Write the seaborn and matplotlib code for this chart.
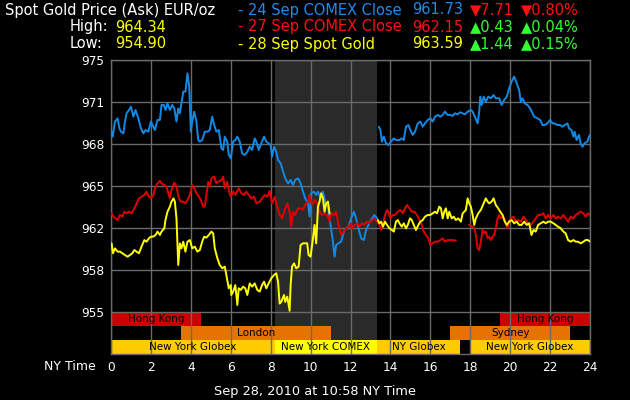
import matplotlib
matplotlib.use("Agg")
import matplotlib.pyplot as plt
import pandas as pd
import seaborn as sns

# Series readings: (hour of NY day, price EUR/oz)
blue_seg1 = [
    (0.03, 969.31), (0.08, 968.92), (0.20, 970.11), (0.33, 970.37), (0.42, 969.58), (0.50, 969.31),
    (0.62, 969.18), (0.70, 970.11), (0.78, 970.77), (0.90, 971.03), (1.00, 971.30), (1.12, 970.50),
    (1.23, 971.03), (1.37, 970.37), (1.50, 969.58), (1.62, 969.18), (1.73, 969.44), (1.87, 969.31),
    (2.00, 970.11), (2.12, 969.71), (2.20, 969.44), (2.33, 970.24), (2.45, 970.24), (2.53, 971.43),
    (2.65, 971.43), (2.73, 971.03), (2.83, 971.56), (2.95, 971.03), (3.07, 971.43), (3.17, 971.16),
    (3.28, 970.11), (3.37, 971.16), (3.45, 970.77), (3.53, 971.56), (3.62, 972.49), (3.73, 972.49),
    (3.83, 973.94), (3.92, 972.88), (4.00, 969.31), (4.07, 970.11), (4.17, 970.90), (4.28, 970.11),
    (4.37, 968.65), (4.45, 968.52), (4.57, 968.65), (4.70, 969.31), (4.83, 969.31), (4.95, 969.44),
    (5.07, 970.50), (5.17, 969.84), (5.28, 969.31), (5.40, 969.44), (5.53, 967.99), (5.62, 967.86),
    (5.70, 968.92), (5.82, 968.52), (5.90, 967.46), (6.00, 967.20), (6.12, 968.52), (6.23, 968.65),
    (6.33, 968.92), (6.45, 968.52), (6.57, 967.59), (6.70, 967.46), (6.83, 967.72), (6.95, 968.12),
    (7.07, 967.86), (7.20, 968.78), (7.28, 968.52), (7.40, 967.86), (7.53, 968.39), (7.67, 968.92),
    (7.78, 968.52), (7.90, 968.39), (8.00, 968.25), (8.07, 967.33), (8.17, 968.12), (8.28, 967.72),
    (8.37, 967.06), (8.50, 966.80), (8.62, 966.14), (8.73, 965.61), (8.87, 965.21), (9.00, 965.48),
    (9.12, 965.08), (9.23, 965.48), (9.37, 965.61), (9.50, 965.21), (9.62, 964.55), (9.73, 964.02),
    (9.87, 963.62), (9.95, 962.57), (10.03, 964.42), (10.17, 964.55), (10.28, 964.29), (10.37, 964.55),
    (10.50, 964.02), (10.62, 964.55), (10.73, 963.76), (10.87, 963.36), (11.00, 961.91), (11.12, 960.58),
    (11.20, 959.39), (11.28, 960.32), (11.40, 960.45), (11.53, 960.58), (11.67, 961.38), (11.78, 961.64),
    (11.90, 961.77), (12.03, 962.43), (12.17, 962.96), (12.28, 962.43), (12.40, 961.64), (12.53, 960.85),
    (12.67, 960.71), (12.78, 961.51), (12.90, 961.91), (13.03, 962.30), (13.20, 962.70), (13.33, 962.43),
]
blue_seg2 = [
    (13.42, 969.71), (13.50, 969.44), (13.57, 968.52), (13.67, 968.92), (13.78, 968.39), (13.90, 968.25),
    (14.03, 968.52), (14.17, 968.78), (14.28, 968.65), (14.45, 968.65), (14.57, 968.78), (14.67, 968.65),
    (14.78, 969.71), (14.90, 969.84), (15.00, 969.44), (15.12, 969.05), (15.23, 969.31), (15.37, 969.97),
    (15.50, 970.11), (15.62, 969.71), (15.73, 969.97), (15.87, 970.24), (16.00, 970.37), (16.12, 970.11),
    (16.23, 970.50), (16.37, 970.64), (16.50, 970.50), (16.62, 970.64), (16.73, 970.90), (16.87, 970.64),
    (17.00, 970.64), (17.12, 970.56), (17.23, 970.77), (17.37, 970.69), (17.50, 970.85), (17.62, 970.77),
    (17.73, 970.69), (17.87, 970.90), (18.03, 971.03), (18.12, 970.90), (18.23, 970.50), (18.37, 969.97),
    (18.45, 970.90), (18.50, 972.09), (18.57, 971.43), (18.67, 972.09), (18.78, 971.69), (18.90, 972.09),
    (19.03, 971.96), (19.17, 972.22), (19.28, 971.96), (19.45, 971.96), (19.57, 971.43), (19.70, 971.83),
    (19.83, 972.09), (19.95, 972.75), (20.07, 973.28), (20.20, 973.68), (20.33, 973.15), (20.45, 972.62),
    (20.53, 971.69), (20.62, 971.96), (20.73, 971.56), (20.87, 971.43), (21.00, 971.16), (21.12, 970.77),
    (21.20, 970.50), (21.37, 970.37), (21.50, 970.24), (21.62, 969.84), (21.73, 969.84), (21.87, 969.97),
    (22.00, 970.24), (22.12, 969.97), (22.23, 969.97), (22.37, 969.84), (22.50, 969.84), (22.62, 969.71),
    (22.73, 969.84), (22.87, 969.97), (22.95, 969.58), (23.07, 969.44), (23.17, 968.92), (23.23, 969.31),
    (23.33, 968.65), (23.45, 969.05), (23.53, 968.39), (23.62, 968.12), (23.73, 968.39), (23.87, 968.52),
    (23.95, 968.92), (24.00, 969.05),
]
red_seg1 = [
    (0.03, 962.83), (0.12, 962.57), (0.23, 962.43), (0.33, 962.30), (0.45, 962.70), (0.57, 962.57),
    (0.67, 962.96), (0.78, 962.83), (0.90, 962.96), (1.03, 962.83), (1.17, 963.23), (1.28, 963.62),
    (1.40, 964.02), (1.53, 964.15), (1.67, 964.29), (1.78, 964.55), (1.90, 964.15), (2.00, 964.02),
    (2.12, 964.29), (2.23, 964.95), (2.33, 965.21), (2.45, 965.40), (2.53, 965.21), (2.67, 965.08),
    (2.78, 964.95), (2.87, 964.42), (2.95, 964.02), (3.03, 964.68), (3.17, 965.26), (3.28, 964.95),
    (3.40, 964.02), (3.50, 963.76), (3.62, 963.76), (3.73, 963.62), (3.83, 963.89), (3.95, 964.29),
    (4.07, 965.08), (4.17, 964.82), (4.28, 964.42), (4.40, 964.15), (4.50, 963.89), (4.62, 963.36),
    (4.70, 963.36), (4.78, 964.29), (4.87, 965.34), (4.95, 964.95), (5.03, 965.61), (5.17, 965.74),
    (5.28, 965.21), (5.37, 965.34), (5.53, 965.48), (5.62, 965.74), (5.70, 964.82), (5.82, 965.34),
    (5.90, 964.68), (6.00, 964.15), (6.12, 964.55), (6.23, 964.29), (6.40, 964.82), (6.53, 964.42),
    (6.67, 964.29), (6.78, 964.55), (6.90, 964.29), (7.03, 964.02), (7.17, 964.15), (7.28, 963.62),
    (7.45, 963.76), (7.57, 964.02), (7.70, 964.29), (7.83, 964.15), (7.95, 964.60), (8.07, 963.62),
    (8.20, 964.15), (8.33, 963.36), (8.45, 962.70), (8.57, 962.43), (8.70, 963.10), (8.83, 963.62),
    (8.95, 962.96), (9.03, 961.77), (9.12, 962.96), (9.23, 962.70), (9.37, 963.23), (9.50, 963.23),
    (9.62, 963.10), (9.73, 963.49), (9.87, 963.76), (9.95, 964.29), (10.07, 963.49), (10.20, 963.89),
    (10.33, 963.62), (10.45, 962.96), (10.57, 962.70), (10.70, 962.83), (10.83, 962.70), (10.95, 962.17),
    (11.03, 962.83), (11.17, 962.70), (11.28, 962.96), (11.40, 961.91), (11.53, 961.11), (11.67, 961.38),
    (11.78, 961.64), (11.90, 961.77), (12.03, 962.04), (12.07, 961.64), (12.20, 961.91), (12.33, 962.04),
    (12.45, 961.77), (12.57, 962.04), (12.70, 961.91), (12.83, 962.17), (12.95, 962.04), (13.07, 962.30),
    (13.20, 962.43), (13.33, 962.17), (13.45, 961.91), (13.53, 961.51), (13.62, 961.91), (13.73, 962.70),
    (13.83, 963.10), (13.90, 962.96), (14.00, 962.43), (14.12, 962.70), (14.23, 962.70), (14.37, 962.96),
    (14.50, 963.10), (14.62, 962.83), (14.73, 963.23), (14.83, 963.49), (14.95, 963.23), (15.07, 962.96),
    (15.20, 962.96), (15.33, 962.70), (15.45, 962.30), (15.57, 961.91), (15.67, 961.38), (15.78, 961.11),
    (15.90, 960.85), (16.00, 960.32), (16.12, 960.45), (16.23, 960.58), (16.37, 960.58), (16.50, 960.71),
    (16.62, 960.85), (16.73, 960.58), (16.87, 960.71), (17.00, 960.71), (17.12, 960.71), (17.28, 960.66),
]
red_seg2 = [
    (17.95, 961.91), (18.12, 961.77), (18.20, 961.64), (18.28, 961.11), (18.37, 960.05), (18.45, 959.92),
    (18.53, 960.58), (18.62, 961.51), (18.70, 961.24), (18.78, 961.38), (18.87, 960.85), (18.95, 960.98),
    (19.03, 960.71), (19.12, 960.98), (19.20, 961.11), (19.28, 961.64), (19.37, 962.43), (19.45, 962.70),
    (19.53, 962.43), (19.62, 962.57), (19.70, 962.43), (19.78, 962.04), (19.87, 961.64), (19.95, 962.17),
    (20.03, 962.43), (20.17, 962.57), (20.28, 962.17), (20.40, 962.30), (20.53, 962.17), (20.67, 962.57),
    (20.78, 962.30), (20.90, 962.04), (21.03, 961.91), (21.17, 962.17), (21.28, 962.43), (21.40, 962.70),
    (21.53, 962.70), (21.67, 962.83), (21.78, 962.43), (21.90, 962.70), (22.03, 962.43), (22.17, 962.70),
    (22.28, 962.43), (22.40, 962.57), (22.53, 962.43), (22.67, 962.70), (22.78, 962.43), (22.90, 962.17),
    (23.03, 962.57), (23.17, 962.43), (23.28, 962.70), (23.40, 962.83), (23.53, 962.96), (23.67, 962.83),
    (23.78, 962.57), (23.90, 962.83), (24.00, 962.70),
]
yellow_seg1 = [
    (0.03, 960.45), (0.10, 959.66), (0.20, 960.05), (0.33, 959.79), (0.45, 959.79), (0.57, 959.66),
    (0.70, 959.52), (0.83, 959.39), (0.95, 959.52), (1.07, 959.66), (1.17, 959.92), (1.28, 959.79),
    (1.40, 959.66), (1.53, 960.19), (1.67, 960.71), (1.78, 960.58), (1.90, 960.85), (2.00, 960.98),
    (2.12, 960.98), (2.23, 961.11), (2.33, 961.38), (2.45, 961.11), (2.53, 961.38), (2.67, 961.64),
    (2.73, 962.30), (2.83, 962.96), (2.95, 963.36), (3.03, 963.76), (3.13, 964.02), (3.20, 963.76),
    (3.28, 962.43), (3.37, 958.73), (3.45, 960.45), (3.53, 960.05), (3.62, 960.58), (3.73, 959.79),
    (3.83, 960.58), (3.95, 960.71), (4.07, 960.05), (4.20, 960.19), (4.33, 959.79), (4.45, 959.92),
    (4.57, 960.58), (4.67, 960.98), (4.78, 960.90), (4.90, 961.11), (5.03, 961.38), (5.12, 961.24),
    (5.20, 960.05), (5.33, 959.26), (5.45, 958.73), (5.57, 958.47), (5.70, 958.60), (5.78, 957.94),
    (5.90, 956.88), (6.00, 957.14), (6.03, 956.35), (6.12, 956.62), (6.23, 957.14), (6.33, 955.56),
    (6.40, 956.88), (6.50, 956.75), (6.62, 957.01), (6.73, 956.88), (6.83, 956.35), (6.95, 957.27),
    (7.07, 957.01), (7.20, 957.27), (7.33, 956.75), (7.45, 956.62), (7.57, 957.14), (7.67, 957.41),
    (7.78, 956.88), (7.90, 957.27), (8.03, 957.67), (8.17, 957.94), (8.28, 958.07), (8.37, 957.41),
    (8.45, 955.67), (8.53, 955.80), (8.67, 956.35), (8.73, 955.80), (8.83, 956.22), (8.95, 955.10),
    (9.00, 957.14), (9.07, 958.60), (9.17, 958.86), (9.28, 958.47), (9.40, 958.60), (9.50, 960.32),
    (9.62, 960.45), (9.73, 960.45), (9.83, 960.45), (9.90, 959.52), (10.00, 959.39), (10.12, 960.85),
    (10.20, 961.91), (10.28, 960.45), (10.37, 963.36), (10.45, 963.76), (10.53, 964.42), (10.62, 964.02),
    (10.70, 962.96), (10.78, 963.62), (10.87, 963.76), (10.95, 962.83),
]
yellow_seg2 = [
    (13.37, 962.30), (13.45, 962.04), (13.53, 962.17), (13.63, 961.77), (13.73, 962.17), (13.83, 961.91),
    (13.95, 961.64), (14.07, 961.51), (14.17, 961.38), (14.28, 962.17), (14.37, 962.30), (14.45, 962.04),
    (14.57, 961.77), (14.67, 962.04), (14.78, 961.64), (14.87, 961.91), (14.98, 962.43), (15.07, 962.30),
    (15.17, 961.91), (15.28, 961.51), (15.40, 961.91), (15.50, 962.17), (15.62, 962.30), (15.73, 962.57),
    (15.87, 962.70), (16.00, 962.70), (16.12, 962.83), (16.23, 962.96), (16.33, 962.83), (16.45, 963.36),
    (16.53, 963.23), (16.62, 962.43), (16.70, 962.96), (16.78, 963.23), (16.87, 962.43), (16.95, 962.96),
    (17.07, 962.43), (17.17, 962.57), (17.28, 962.30), (17.40, 962.43), (17.53, 962.17), (17.62, 962.83),
    (17.70, 962.96), (17.78, 963.10), (17.87, 964.02), (17.95, 963.62), (18.03, 963.36), (18.12, 962.70),
    (18.20, 961.91), (18.28, 962.43), (18.40, 962.83), (18.53, 963.10), (18.67, 963.62), (18.78, 964.02),
    (18.87, 963.76), (18.95, 963.62), (19.07, 963.76), (19.17, 964.02), (19.28, 963.49), (19.40, 963.23),
    (19.50, 962.96), (19.62, 962.70), (19.73, 962.17), (19.83, 961.91), (19.95, 962.17), (20.07, 962.30),
    (20.20, 962.04), (20.33, 962.17), (20.45, 961.91), (20.57, 961.91), (20.70, 962.17), (20.83, 961.91),
    (20.95, 962.04), (21.07, 961.11), (21.17, 961.51), (21.28, 961.38), (21.40, 961.91), (21.53, 962.04),
    (21.67, 962.17), (21.78, 962.04), (21.90, 962.17), (22.03, 962.17), (22.17, 962.04), (22.28, 961.91),
    (22.40, 961.77), (22.53, 961.64), (22.67, 961.38), (22.78, 961.24), (22.90, 960.71), (23.03, 960.58),
    (23.17, 960.71), (23.28, 960.58), (23.40, 960.58), (23.53, 960.45), (23.67, 960.58), (23.78, 960.71),
    (23.90, 960.71), (24.00, 960.58),
]

# Trading sessions: (row, start hour, end hour, label, colour key)
sessions = [
    (0, 0.0, 4.5, "Hong Kong", "hk"),
    (0, 19.5, 24.0, "Hong Kong", "hk"),
    (1, 3.5, 11.0, "London", "ldn"),
    (1, 17.0, 23.0, "Sydney", "ldn"),
    (2, 0.0, 8.2, "New York Globex", "glx"),
    (2, 8.2, 13.33, "New York COMEX", "cmx"),
    (2, 13.33, 17.5, "NY Globex", "glx"),
    (2, 18.0, 24.0, "New York Globex", "glx"),
]
comex_window = (8.2, 13.33)

y_ticks = [955, 958.333, 961.667, 965, 968.333, 971.667, 975]
y_tick_labels = ["955", "958", "962", "965", "968", "971", "975"]
x_ticks = list(range(0, 25, 2))

header_rows = [
    ("- 24 Sep COMEX Close", "961.73", "\u25bc7.71", "\u25bc0.80%", "blue", "down"),
    ("- 27 Sep COMEX Close", "962.15", "\u25b20.43", "\u25b20.04%", "red", "up"),
    ("- 28 Sep Spot Gold", "963.59", "\u25b21.44", "\u25b20.15%", "yellow", "up"),
]

colors = {"blue": "#108ae6", "red": "#e00000", "yellow": "#ffff00"}
bar_colors = {"hk": "#cc0000", "ldn": "#e67300", "glx": "#ffcc00", "cmx": "#ffff00"}
text_colors = {"blue": "#1a8cf0", "red": "#ff1010", "yellow": "#ffff00", "up": "#33ff33", "down": "#ff1010"}

frames = []
for name, segs in [("blue", [blue_seg1, blue_seg2]), ("red", [red_seg1, red_seg2]),
                   ("yellow", [yellow_seg1, yellow_seg2])]:
    for i, seg in enumerate(segs):
        d = pd.DataFrame(seg, columns=["hour", "price"])
        d["series"] = name
        d["seg"] = i
        frames.append(d)
df = pd.concat(frames, ignore_index=True)

sns.set_style("dark")
plt.rcParams["font.family"] = ["DejaVu Sans"]

fig = plt.figure(figsize=(6.3, 4.0), dpi=100, facecolor="black")
ax = fig.add_axes([111 / 630, 1 - 354 / 400, 479 / 630, 294 / 400])
ax.set_facecolor("black")

ymin, ymax = 955 - 3.3333, 975
row_h = (955 - ymin) / 3

ax.axvspan(*comex_window, color="#2a2a2a", zorder=0, lw=0)

for row, x0, x1, label, ck in sessions:
    yc = 955 - row_h * (row + 0.5)
    ax.barh(yc, x1 - x0, left=x0, height=row_h, color=bar_colors[ck], lw=0, zorder=1)
    ax.text((x0 + x1) / 2, yc, label, ha="center", va="center", fontsize=7.5,
            color="black", zorder=4)

sns.lineplot(data=df, x="hour", y="price", hue="series", units="seg", estimator=None,
             palette=colors, linewidth=1.4, legend=False, ax=ax, zorder=3)

ax.set_xlim(0, 24)
ax.set_ylim(ymin, ymax)
ax.set_xticks(x_ticks)
ax.set_yticks(y_ticks)
ax.set_yticklabels(y_tick_labels)
ax.tick_params(length=0, colors="white", labelsize=8.7, pad=5)
ax.grid(True, color="#6a6a6a", lw=1)
ax.set_axisbelow(False)
for gl in ax.get_xgridlines() + ax.get_ygridlines():
    gl.set_zorder(2)
for s in ax.spines.values():
    s.set_color("#6a6a6a")
    s.set_linewidth(1)
ax.set_xlabel("")
ax.set_ylabel("")

fig.text(96 / 630, 1 - 367 / 400, "NY Time", ha="right", va="center", color="white", fontsize=9)
fig.text(0.5, 1 - 392 / 400, "Sep 28, 2010 at 10:58 NY Time", ha="center", va="center",
         color="white", fontsize=9.3)

# header block
fs = 10.5
fig.text(5 / 630, 1 - 10 / 400, "Spot Gold Price (Ask) EUR/oz", color="white", fontsize=fs, va="center")
fig.text(70 / 630, 1 - 27 / 400, "High:", color="white", fontsize=fs, va="center")
fig.text(115 / 630, 1 - 27 / 400, "964.34", color="#ffff00", fontsize=fs, va="center")
fig.text(70 / 630, 1 - 44 / 400, "Low:", color="white", fontsize=fs, va="center")
fig.text(115 / 630, 1 - 44 / 400, "954.90", color="#ffff00", fontsize=fs, va="center")
for i, (label, val, chg, pct, ck, direction) in enumerate(header_rows):
    yy = 1 - (10 + 17 * i) / 400
    fig.text(238 / 630, yy, label, color=text_colors[ck], fontsize=fs, va="center")
    fig.text(412 / 630, yy, val, color=text_colors[ck], fontsize=fs, va="center")
    fig.text(470 / 630, yy, chg, color=text_colors[direction], fontsize=fs, va="center")
    fig.text(521 / 630, yy, pct, color=text_colors[direction], fontsize=fs, va="center")

fig.savefig("out.png", dpi=100, facecolor="black")
